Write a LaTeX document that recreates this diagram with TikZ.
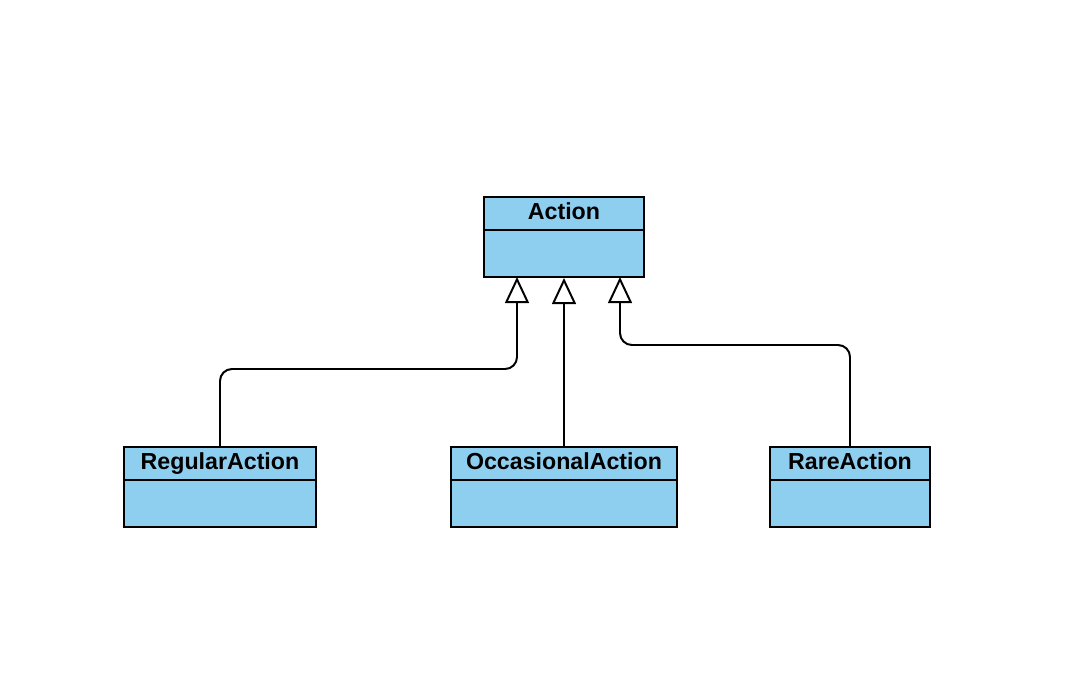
\documentclass[tikz,border=0pt]{standalone}
\usepackage{fontspec}
\setmainfont{Liberation Sans}
\usetikzlibrary{arrows.meta,positioning}
\definecolor{classblue}{RGB}{142,207,240}
\def\px{0.7113pt}

\begin{document}
\begin{tikzpicture}[x=0.025cm, y=-0.025cm, line width=1.4pt,
  classbox/.style={draw, fill=classblue, rectangle, minimum height=80*\px, inner sep=0pt},
  classname/.style={anchor=base, inner sep=0pt, font=\fontsize{16.5}{19}\selectfont\bfseries},
  extends/.style={-{Triangle[open, width=17pt, length=18.5pt]}, rounded corners=8.5pt}]

	\useasboundingbox (0,0) rectangle (1068,698);

	% Class boxes
	\node[classbox, minimum width=160*\px] (action) at (564,237) {};
	\node[classbox, minimum width=192*\px] (regular) at (220,487) {};
	\node[classbox, minimum width=226*\px] (occasional) at (564,487) {};
	\node[classbox, minimum width=160*\px] (rare) at (850,487) {};

	% Class names
	\node[classname] (actiontitle) at (564,219) {Action};
	\node[classname] (regulartitle) at (220,469) {RegularAction};
	\node[classname] (occasionaltitle) at (564,469) {OccasionalAction};
	\node[classname] (raretitle) at (850,469) {RareAction};

	% Header dividers
	\foreach \c in {action,regular,occasional,rare}
		\draw ([yshift=-34*\px]\c.north west) -- ([yshift=-34*\px]\c.north east);

	% Generalisation arrows
	\coordinate (tipL) at (517,277);
	\coordinate (tipR) at (620,277);
	\draw[extends] (regular.north) -- (220,369) -| (tipL);
	\draw[extends] (occasional.north) -- (action.south);
	\draw[extends] (rare.north) -- (850,345) -| (tipR);

\end{tikzpicture}
\end{document}
